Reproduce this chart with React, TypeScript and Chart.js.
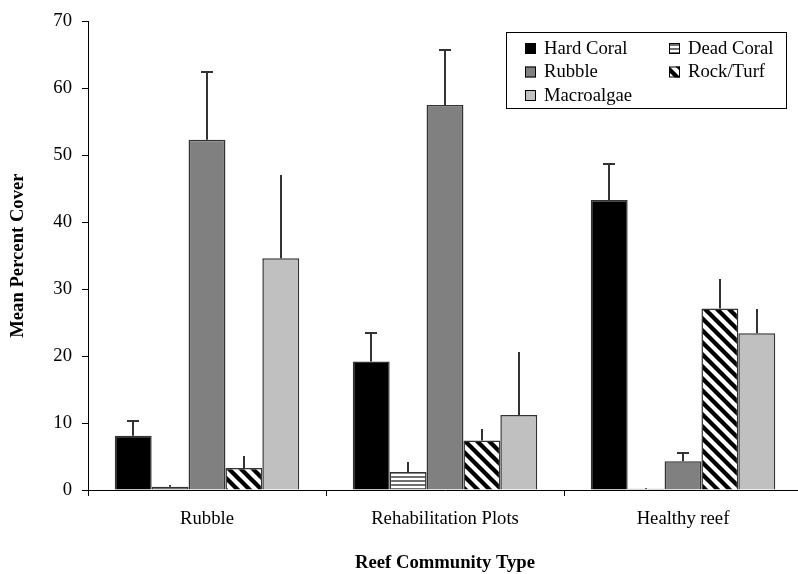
import React, { useEffect, useRef } from "react";
import { Chart, registerables } from "chart.js";

Chart.register(...registerables);

const categories = ["Rubble", "Rehabilitation Plots", "Healthy reef"];
const seriesNames = ["Hard Coral", "Dead Coral", "Rubble", "Rock/Turf", "Macroalgae"];
const hardCoral = [8.1, 19.2, 43.3];
const hardCoralErr = [2.2, 4.2, 5.4];
const deadCoral = [0.5, 2.7, 0.2];
const deadCoralErr = [0.3, 1.5, 0.1];
const rubble = [52.3, 57.5, 4.3];
const rubbleErr = [10.1, 8.2, 1.2];
const rockTurf = [3.3, 7.4, 27.1];
const rockTurfErr = [1.8, 1.7, 4.4];
const macroalgae = [34.6, 11.2, 23.4];
const macroalgaeErr = [12.4, 9.4, 3.6];
const yTicks = [0, 10, 20, 30, 40, 50, 60, 70];

const FONT = "'Liberation Serif', 'Times New Roman', serif";
const FS = 18.67;

function makeHorizPattern(): CanvasPattern | string {
  const c = document.createElement("canvas");
  c.width = 4;
  c.height = 4;
  const g = c.getContext("2d");
  if (!g) return "#999";
  g.fillStyle = "#ffffff";
  g.fillRect(0, 0, 4, 4);
  g.fillStyle = "#707070";
  g.fillRect(0, 0, 4, 2);
  return g.createPattern(c, "repeat") || "#999";
}

function makeDiagPattern(): CanvasPattern | string {
  const s = 12;
  const c = document.createElement("canvas");
  c.width = s;
  c.height = s;
  const g = c.getContext("2d");
  if (!g) return "#777";
  g.fillStyle = "#ffffff";
  g.fillRect(0, 0, s, s);
  g.strokeStyle = "#000000";
  g.lineWidth = 4.3;
  for (const k of [-s, 0, s]) {
    g.beginPath();
    g.moveTo(-3, k - 3);
    g.lineTo(s + 3, s + k + 3);
    g.stroke();
  }
  return g.createPattern(c, "repeat") || "#777";
}

export default function App() {
  const ref = useRef<HTMLCanvasElement | null>(null);

  useEffect(() => {
    if (!ref.current) return;
    const horiz = makeHorizPattern();
    const diag = makeDiagPattern();
    const fills: any[] = ["#000000", horiz, "#808080", diag, "#c0c0c0"];
    const values = [hardCoral, deadCoral, rubble, rockTurf, macroalgae];
    const errs = [hardCoralErr, deadCoralErr, rubbleErr, rockTurfErr, macroalgaeErr];
    const caps = [true, false, true, false, false];

    const errorBars = {
      id: "errorBars",
      afterDatasetsDraw(chart: any) {
        const ctx = chart.ctx;
        const ys = chart.scales.y;
        ctx.save();
        ctx.strokeStyle = "#333";
        ctx.lineWidth = 2;
        chart.data.datasets.forEach((ds: any, i: number) => {
          const meta = chart.getDatasetMeta(i);
          meta.data.forEach((el: any, j: number) => {
            const v = ds.data[j];
            const e = ds.errUp[j];
            const x = Math.round(el.x);
            const y0 = ys.getPixelForValue(v);
            const y1 = Math.round(ys.getPixelForValue(v + e));
            ctx.beginPath();
            ctx.moveTo(x, y0);
            ctx.lineTo(x, y1);
            if (ds.cap) {
              ctx.moveTo(x - 6, y1);
              ctx.lineTo(x + 6, y1);
            }
            ctx.stroke();
          });
        });
        ctx.restore();
      },
    };

    const boxLegend = {
      id: "boxLegend",
      afterDraw(chart: any) {
        const ctx = chart.ctx;
        ctx.save();
        ctx.strokeStyle = "#000";
        ctx.lineWidth = 1;
        ctx.fillStyle = "#fff";
        ctx.fillRect(506.5, 32.5, 280, 76);
        ctx.strokeRect(506.5, 32.5, 280, 76);
        const cols = [525, 669];
        const rows = [48, 71.5, 95];
        ctx.font = FS + "px " + FONT;
        ctx.textBaseline = "middle";
        chart.data.datasets.forEach((ds: any, i: number) => {
          const cx = cols[i % 2];
          const cy = rows[Math.floor(i / 2)];
          ctx.fillStyle = ds.backgroundColor;
          ctx.fillRect(cx, cy - 5, 11, 11);
          ctx.strokeStyle = "#000";
          ctx.strokeRect(cx + 0.5, cy - 4.5, 10, 10);
          ctx.fillStyle = "#000";
          ctx.fillText(ds.label, cx + 19, cy + 1);
        });
        ctx.restore();
      },
    };

    const chart = new Chart(ref.current, {
      type: "bar",
      data: {
        labels: categories,
        datasets: seriesNames.map((name, i) => ({
          label: name,
          data: values[i],
          errUp: errs[i],
          cap: caps[i],
          backgroundColor: fills[i],
          borderColor: "#333333",
          borderWidth: 1.5,
          barPercentage: 1,
          categoryPercentage: 0.775,
        })) as any,
      },
      options: {
        animation: false,
        responsive: false,
        layout: { padding: { top: 18, right: 8, left: 0, bottom: 0 } },
        plugins: {
          legend: { display: false },
          tooltip: { enabled: false },
        },
        scales: {
          x: {
            grid: {
              display: true,
              drawOnChartArea: false,
              drawTicks: true,
              tickLength: 6,
              color: "#000",
              offset: true,
            },
            border: { color: "#000", width: 1 },
            ticks: {
              color: "#000",
              font: { family: FONT, size: FS },
              padding: 12,
              maxRotation: 0,
            },
            title: {
              display: true,
              text: "Reef Community Type",
              color: "#000",
              font: { family: FONT, size: FS, weight: "bold" },
              padding: { top: 10, bottom: 0 },
            },
            afterFit(scale: any) {
              scale.height = 84;
            },
          },
          y: {
            min: 0,
            max: 70,
            afterBuildTicks(scale: any) {
              scale.ticks = yTicks.map((v) => ({ value: v }));
            },
            grid: {
              display: true,
              drawOnChartArea: false,
              drawTicks: true,
              tickLength: 6,
              color: "#000",
            },
            border: { color: "#000", width: 1 },
            ticks: {
              color: "#000",
              font: { family: FONT, size: FS },
              padding: 10,
            },
            title: {
              display: true,
              text: "Mean Percent Cover",
              color: "#000",
              font: { family: FONT, size: FS, weight: "bold" },
              padding: { top: 7, bottom: 0 },
            },
            afterFit(scale: any) {
              scale.width = 88;
            },
          },
        },
      },
      plugins: [errorBars, boxLegend],
    });
    return () => chart.destroy();
  }, []);

  return (
    <div
      style={{
        position: "fixed",
        left: 0,
        top: 0,
        width: 798,
        height: 574,
        overflow: "hidden",
        background: "#fff",
      }}
    >
      <canvas ref={ref} width={810} height={574} style={{ width: 810, height: 574, display: "block" }} />
    </div>
  );
}
